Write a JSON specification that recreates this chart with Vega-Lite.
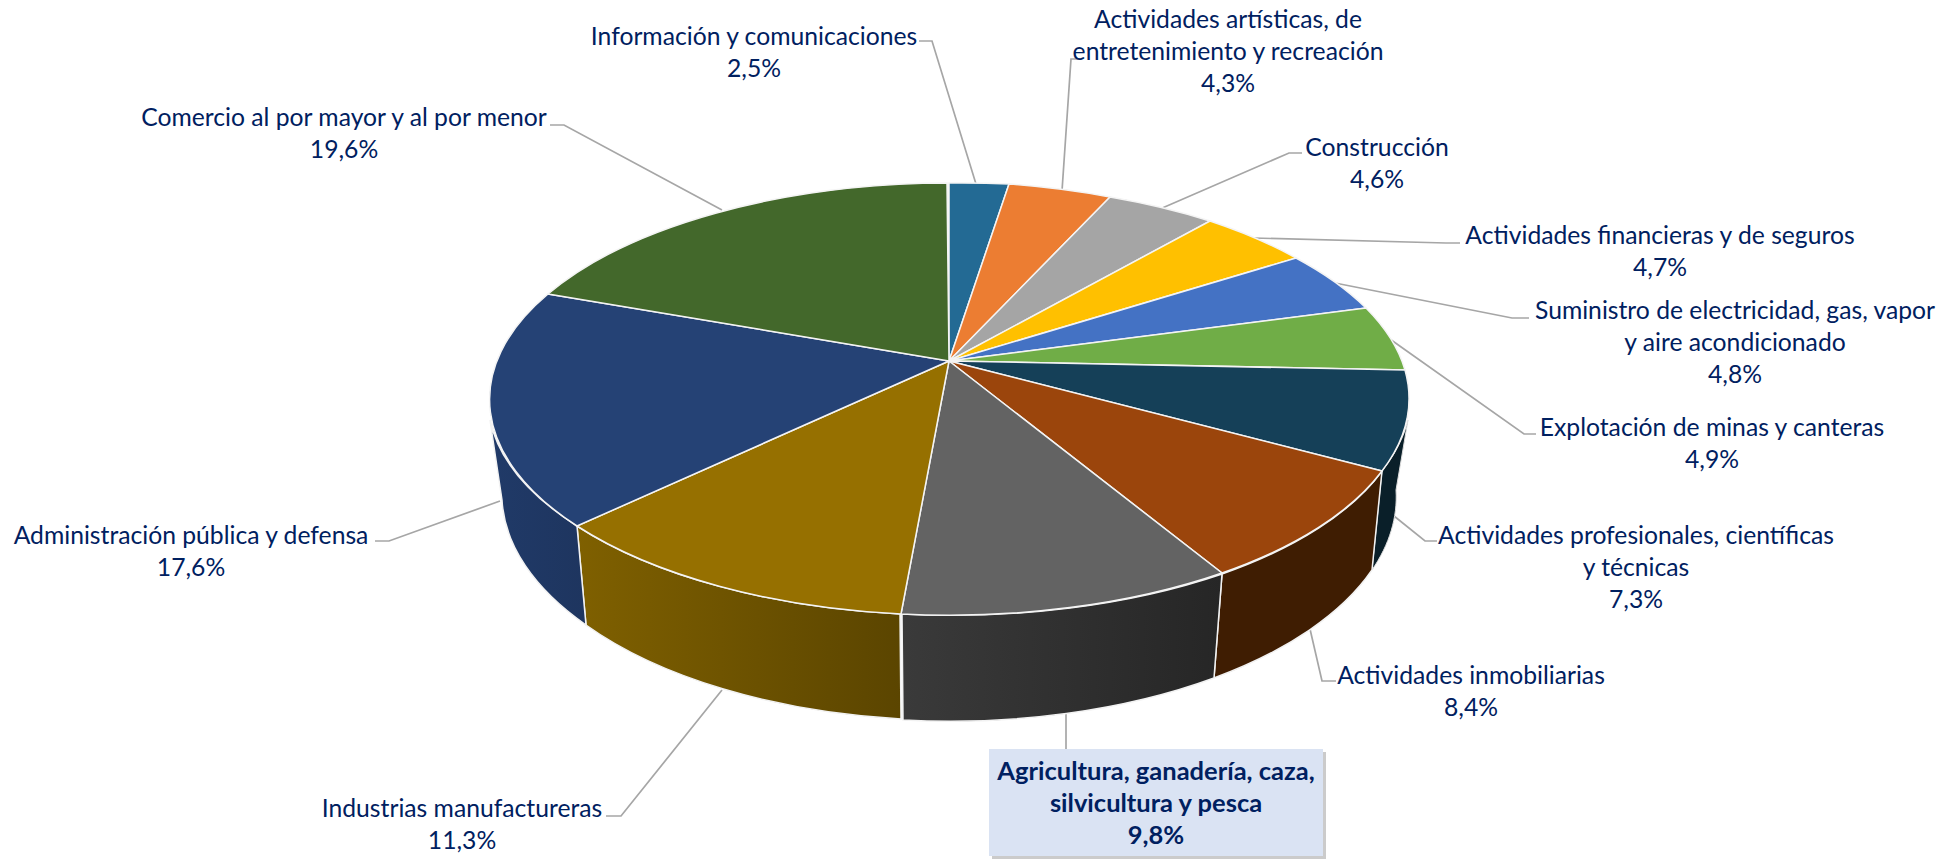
{"$schema":"https://vega.github.io/schema/vega-lite/v6.json","width":1960,"height":859,"padding":0,"autosize":{"type":"none"},"background":"white","config":{"view":{"stroke":null}},
"data":{"values":[
{"orden":1,"sector":"Información y comunicaciones","pct":2.5},
{"orden":2,"sector":"Actividades artísticas, de\nentretenimiento y recreación","pct":4.3},
{"orden":3,"sector":"Construcción","pct":4.6},
{"orden":4,"sector":"Actividades financieras y de seguros","pct":4.7},
{"orden":5,"sector":"Suministro de electricidad, gas, vapor\ny aire acondicionado","pct":4.8},
{"orden":6,"sector":"Explotación de minas y canteras","pct":4.9},
{"orden":7,"sector":"Actividades profesionales, científicas\ny técnicas","pct":7.3},
{"orden":8,"sector":"Actividades inmobiliarias","pct":8.4},
{"orden":9,"sector":"Agricultura, ganadería, caza,\nsilvicultura y pesca","pct":9.8},
{"orden":10,"sector":"Industrias manufactureras","pct":11.3},
{"orden":11,"sector":"Administración pública y defensa","pct":17.6},
{"orden":12,"sector":"Comercio al por mayor y al por menor","pct":19.6}]},
"transform":[{"calculate":"datum.sector+'\\n'+replace(format(datum.pct,'.1f'),'.',',')+'%'","as":"etiqueta"}],
"layer":[
{"mark":{"type":"point","filled":false,"opacity":1,"stroke":"#A6A6A6","strokeWidth":1.7},
 "encoding":{"x":{"value":0},"y":{"value":0},"size":{"value":4},"shape":{"field":"orden","type":"nominal","legend":null,"scale":{"domain":[1,2,3,4,5,6,7,8,9,10,11,12],"range":[
 "M976 184L932 41L919 41","M1062 191L1071 59L1080 59","M1160 209L1289 153L1302 153","M1253 238L1446 243L1460 243","M1335 283L1512 318L1529 318","M1387 337L1524 434L1536 434","M1394 516L1425 541L1437 541","M1310 629L1322 681L1336 681","M1066 714L1066 750","M722 690L621 816L606 816","M500 501L389 541L375 541","M722 210L564 125L550 125"]}}}},
{"transform":[{"filter":"datum.orden===6"}],"mark":{"type":"point","filled":true,"opacity":1,"stroke":"#DDDDDD","strokeWidth":1,"fill":"#0A1F29"},
 "encoding":{"x":{"value":0},"y":{"value":0},"size":{"value":4},"shape":{"field":"orden","type":"nominal","legend":null,"scale":{"domain":[6],"range":["M1382 471A460 216 0 0 0 1408 420L1396 490A447 224.5 0 0 1 1372 570Z"]}}}},
{"transform":[{"filter":"datum.orden===7"}],"mark":{"type":"point","filled":true,"opacity":1,"stroke":"#F2F2F2","strokeWidth":1.5,"fill":"#3F1D02"},
 "encoding":{"x":{"value":0},"y":{"value":0},"size":{"value":4},"shape":{"field":"orden","type":"nominal","legend":null,"scale":{"domain":[7],"range":["M1222 574A460 216 0 0 0 1382 471L1372 570A447 224.5 0 0 1 1214 678Z"]}}}},
{"transform":[{"filter":"datum.orden===9"}],"mark":{"type":"point","filled":true,"opacity":1,"stroke":"#F2F2F2","strokeWidth":1.5,"fill":{"gradient":"linear","x1":0,"y1":0,"x2":1,"y2":0,"stops":[{"offset":0,"color":"#3A3A3A"},{"offset":1,"color":"#262626"}]}},
 "encoding":{"x":{"value":0},"y":{"value":0},"size":{"value":4},"shape":{"field":"orden","type":"nominal","legend":null,"scale":{"domain":[9],"range":["M902 614A460 216 0 0 0 1222 574L1214 678A447 224.5 0 0 1 903 720Z"]}}}},
{"transform":[{"filter":"datum.orden===10"}],"mark":{"type":"point","filled":true,"opacity":1,"stroke":"#F2F2F2","strokeWidth":1.5,"fill":{"gradient":"linear","x1":0,"y1":0,"x2":1,"y2":0,"stops":[{"offset":0,"color":"#7F6000"},{"offset":1,"color":"#5B4500"}]}},
 "encoding":{"x":{"value":0},"y":{"value":0},"size":{"value":4},"shape":{"field":"orden","type":"nominal","legend":null,"scale":{"domain":[10],"range":["M577 526A460 216 0 0 0 900 614L901 719A447 224.5 0 0 1 586 625Z"]}}}},
{"transform":[{"filter":"datum.orden===11"}],"mark":{"type":"point","filled":true,"opacity":1,"stroke":"#F2F2F2","strokeWidth":1.5,"fill":{"gradient":"linear","x1":0,"y1":0,"x2":1,"y2":0,"stops":[{"offset":0,"color":"#203A68"},{"offset":1,"color":"#1E355F"}]}},
 "encoding":{"x":{"value":0},"y":{"value":0},"size":{"value":4},"shape":{"field":"orden","type":"nominal","legend":null,"scale":{"domain":[11],"range":["M490 420A460 216 0 0 0 577 526L586 625A447 224.5 0 0 1 502 500Z"]}}}},
{"mark":{"type":"point","filled":true,"opacity":1,"stroke":"#F4F4F4","strokeWidth":1.5},
 "encoding":{"x":{"value":0},"y":{"value":0},"size":{"value":4},"color":{"field":"orden","type":"nominal","legend":null,"scale":{"domain":[1,2,3,4,5,6,7,8,9,10,11,12],"range":["#236A94","#EC7D32","#A5A5A5","#FFC000","#4472C4","#70AD47","#154058","#9B450C","#636363","#967000","#254275","#43682B"]}},
 "shape":{"field":"orden","type":"nominal","legend":null,"scale":{"domain":[1,2,3,4,5,6,7,8,9,10,11,12],"range":[
 "M949 361L949 183A460 216 0 0 1 1009 184Z","M949 361L1009 184A460 216 0 0 1 1110 197Z","M949 361L1110 197A460 216 0 0 1 1210 221Z","M949 361L1210 221A460 216 0 0 1 1296 258Z","M949 361L1296 258A460 216 0 0 1 1366 308Z","M949 361L1366 308A460 216 0 0 1 1405 370Z","M949 361L1405 370A460 216 0 0 1 1382 471Z","M949 361L1382 471A460 216 0 0 1 1222 573Z","M949 361L1222 573A460 216 0 0 1 901 614Z","M949 361L901 614A460 216 0 0 1 577 526Z","M949 361L577 526A460 216 0 0 1 548 294Z","M949 361L548 294A460 216 0 0 1 947 183Z"]}}}},
{"transform":[{"filter":"datum.orden===9"}],"mark":{"type":"point","filled":true,"opacity":0.45,"fill":"#8C8C8C","strokeWidth":0},
 "encoding":{"x":{"value":0},"y":{"value":0},"size":{"value":4},"shape":{"field":"orden","type":"nominal","legend":null,"scale":{"domain":[9],"range":["M992 752H1326V859H992Z"]}}}},
{"transform":[{"filter":"datum.orden===9"}],"mark":{"type":"point","filled":true,"opacity":1,"fill":"#DAE3F3","strokeWidth":0},
 "encoding":{"x":{"value":0},"y":{"value":0},"size":{"value":4},"shape":{"field":"orden","type":"nominal","legend":null,"scale":{"domain":[9],"range":["M989 749H1323V856H989Z"]}}}},
{"transform":[{"filter":"datum.orden!==9"}],"mark":{"type":"text","font":"Lato","fontSize":24.7,"lineBreak":"\n","lineHeight":32,"align":"center","baseline":"middle","color":"#002060"},
 "encoding":{"text":{"field":"etiqueta"},
 "x":{"field":"orden","type":"quantitative","axis":null,"scale":{"zero":false,"nice":false,"domain":[1,2,3,4,5,6,7,8,9,10,11,12],"range":[754,1228,1377,1660,1735,1712,1636,1471,1156,462,191,344]}},
 "y":{"field":"orden","type":"quantitative","axis":null,"scale":{"zero":false,"nice":false,"domain":[1,2,3,4,5,6,7,8,9,10,11,12],"range":[37.5,20.5,148.5,236.5,311.5,428.5,536.5,676.5,772,809.5,536.5,118.5]}}}},
{"transform":[{"filter":"datum.orden===9"}],"mark":{"type":"text","font":"Lato","fontWeight":"bold","fontSize":25.5,"lineBreak":"\n","lineHeight":32,"align":"center","baseline":"middle","color":"#002060"},
 "encoding":{"text":{"field":"etiqueta"},
 "x":{"field":"orden","type":"quantitative","axis":null,"scale":{"zero":false,"nice":false,"domain":[1,2,3,4,5,6,7,8,9,10,11,12],"range":[754,1228,1377,1660,1735,1712,1636,1471,1156,462,191,344]}},
 "y":{"field":"orden","type":"quantitative","axis":null,"scale":{"zero":false,"nice":false,"domain":[1,2,3,4,5,6,7,8,9,10,11,12],"range":[37.5,20.5,148.5,236.5,311.5,428.5,536.5,676.5,772,809.5,536.5,118.5]}}}}
],
"resolve":{"scale":{"shape":"independent"}}}
